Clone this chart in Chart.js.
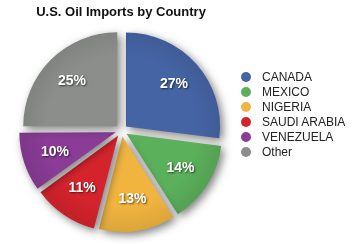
<!DOCTYPE html>
<html>
<head>
<meta charset="utf-8">
<script src="https://cdn.jsdelivr.net/npm/chart.js@4/dist/chart.umd.min.js"></script>
<style>
  body { margin: 0; background: #fff; }
  #wrap { position: relative; width: 358px; height: 244px; overflow: hidden; }
  #oil-chart { position: absolute; left: 0; top: 0; }
  #title {
    position: absolute; left: 0; width: 242px; top: 4px; text-align: center;
    font: bold 13px "Liberation Sans", Arial, sans-serif; color: #111;
  }
  #legend { position: absolute; left: 240px; top: 70px; font: 12px "Liberation Sans", Arial, sans-serif; color: #222; }
  .legend-row { height: 15px; line-height: 15px; white-space: nowrap; }
  .legend-dot { display: inline-block; width: 10px; height: 10px; border-radius: 50%; margin: 0 11px -1px 1px; }
</style>
</head>
<body>
<div id="wrap">
  <canvas id="oil-chart" width="358" height="244"></canvas>
  <div id="title">U.S. Oil Imports by Country</div>
  <div id="legend"></div>
</div>
<script>
const chartTitle = "U.S. Oil Imports by Country";
const countries = ["CANADA", "MEXICO", "NIGERIA", "SAUDI ARABIA", "VENEZUELA", "Other"];
const shares = [27, 14, 13, 11, 10, 25];
const sliceColors = ["#4564a4", "#5bb05b", "#f0b43f", "#d5232c", "#8a3c96", "#8c8e8c"];

// legend built from the same arrays
function buildLegend() {
  const legend = document.getElementById("legend");
  countries.forEach((name, i) => {
    const row = document.createElement("div");
    row.className = "legend-row";
    const dot = document.createElement("span");
    dot.className = "legend-dot";
    dot.style.background = sliceColors[i];
    row.appendChild(dot);
    row.appendChild(document.createTextNode(name));
    legend.appendChild(row);
  });
}

// drop shadow under the slices
const sliceShadow = {
  id: "sliceShadow",
  beforeDatasetsDraw(chart) {
    const ctx = chart.ctx;
    ctx.save();
    ctx.shadowColor = "rgba(0,0,0,0.5)";
    ctx.shadowBlur = 8;
    ctx.shadowOffsetX = 3;
    ctx.shadowOffsetY = 3;
  },
  afterDatasetsDraw(chart) {
    chart.ctx.restore();
  },
};

// percent labels inside each slice
const sliceLabels = {
  id: "sliceLabels",
  afterDatasetsDraw(chart) {
    const ctx = chart.ctx;
    const arcs = chart.getDatasetMeta(0).data;
    ctx.save();
    ctx.font = 'bold 14px "Liberation Sans", Arial, sans-serif';
    ctx.fillStyle = "#fff";
    ctx.textAlign = "center";
    ctx.textBaseline = "middle";
    ctx.shadowColor = "rgba(0,0,0,0.6)";
    ctx.shadowBlur = 2;
    ctx.shadowOffsetX = 1;
    ctx.shadowOffsetY = 1;
    arcs.forEach((arc, i) => {
      const { x, y, startAngle, endAngle, outerRadius } = arc.getProps(
        ["x", "y", "startAngle", "endAngle", "outerRadius"], true);
      const mid = (startAngle + endAngle) / 2;
      const dist = outerRadius * 0.68 + 6;
      ctx.fillText(shares[i] + "%", x + Math.cos(mid) * dist, y + Math.sin(mid) * dist);
    });
    ctx.restore();
  },
};

function sliceFill(context) {
  const chart = context.chart;
  const area = chart.chartArea;
  const i = context.dataIndex;
  if (!area) return sliceColors[i];
  const cx = (area.left + area.right) / 2;
  const cy = (area.top + area.bottom) / 2;
  const g = chart.ctx.createRadialGradient(cx, cy, 0, cx, cy, 100);
  g.addColorStop(0, sliceColors[i]);
  g.addColorStop(0.7, sliceColors[i]);
  g.addColorStop(1, shade(sliceColors[i], 0.9));
  return g;
}

function shade(hex, f) {
  const n = parseInt(hex.slice(1), 16);
  const r = Math.round(((n >> 16) & 255) * f);
  const g = Math.round(((n >> 8) & 255) * f);
  const b = Math.round((n & 255) * f);
  return `rgb(${r},${g},${b})`;
}

buildLegend();
document.getElementById("title").textContent = chartTitle;

new Chart(document.getElementById("oil-chart"), {
  type: "pie",
  data: {
    labels: countries,
    datasets: [
      {
        data: shares,
        backgroundColor: sliceFill,
        borderWidth: 0,
        offset: 24,
        hoverOffset: 24,
        radius: 94,
      },
    ],
  },
  options: {
    responsive: false,
    animation: false,
    radius: 94,
    layout: { padding: { left: 0, right: 115, top: 17, bottom: 0 } },
    plugins: {
      legend: { display: false },
      title: { display: false },
      tooltip: { enabled: false },
    },
  },
  plugins: [sliceShadow, sliceLabels],
});
</script>
</body>
</html>
